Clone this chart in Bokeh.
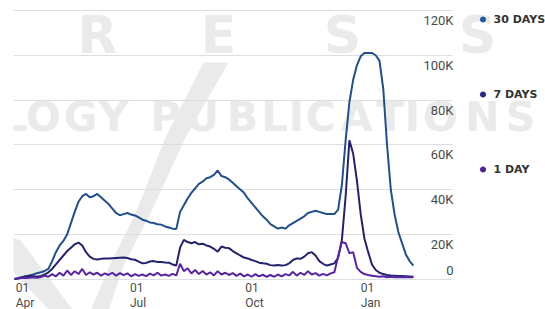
import math
import pandas as pd
from bokeh.plotting import figure
from bokeh.models import (Range1d, FixedTicker, Legend, LegendItem, ColumnDataSource,
                          Grid, Label, PolyAnnotation)
from bokeh.embed import file_html
from bokeh.resources import INLINE
from bokeh.core.properties import value

# ---------------- data (values in thousands, one sample every 3 days) ----------------
start_date = "2020-03-31"
step = "3D"

days_30 = [0, 0.3, 0.8, 1.2, 1.6, 2.0, 2.6, 3.0, 3.6, 4.5,
           8, 12, 15, 17, 20, 25, 30, 34.5, 37, 38,
           36.5, 37, 38, 36.5, 35, 33.5, 31.5, 29.5, 28.5, 29,
           29.5, 28.8, 28.4, 27.5, 26.5, 26, 25.3, 25, 24.5, 24.3,
           23.5, 23, 22.5, 22.4, 30, 33, 36, 38.5, 40.5, 42.5,
           43.5, 45, 45.5, 46.5, 48.5, 46, 45.5, 44.5, 43, 41.5,
           40, 38.5, 36, 34, 32, 30, 28, 26.5, 24.5, 23.5,
           22.5, 23, 22.5, 24, 25, 26, 27, 28, 29.5, 30,
           30.5, 30, 29.5, 29, 29, 29, 31, 42, 62, 79,
           89, 95.5, 99.5, 101, 101, 101, 100, 97.5, 85, 60,
           40, 29, 21, 16, 11, 8, 6]

days_7 = [0, 0.3, 0.8, 1.1, 1.3, 1.2, 1.0, 1.3, 2.0, 3.0,
          4.5, 6.5, 8.5, 10.5, 12.5, 14, 15.5, 16.3, 15, 12,
          10, 9, 8.7, 9, 9.2, 9.2, 9.3, 9.4, 9.5, 9.6,
          9.4, 8.8, 8.6, 7.8, 7, 7.2, 7.8, 8, 7.6, 7.6,
          7.4, 7.3, 6.5, 6, 14, 17.5, 16.5, 16, 16.5, 15.5,
          15.8, 15, 14.5, 13.5, 12.2, 14.5, 14, 13.8, 12.5, 11.5,
          10.5, 9.6, 9.2, 8.5, 8, 7.3, 7, 6.8, 6.2, 6,
          6.3, 6, 6.2, 7, 8.5, 9.2, 9, 10, 11.5, 12,
          10.5, 8, 6.8, 6, 6.5, 7, 9.5, 17.5, 37, 62,
          56, 44, 29, 18, 12, 6.5, 4, 2.8, 2.2, 1.8,
          1.6, 1.5, 1.3, 1.3, 1.2, 1.1, 1.0]

day_1 = [0, 0.2, 0.5, 0.4, 0.6, 0.8, 0.5, 0.9, 1.5, 1.0,
         2.2, 1.2, 2.8, 1.5, 3.8, 1.8, 3.5, 2.2, 4.5, 1.8,
         3.0, 2.0, 2.8, 1.5, 2.5, 1.8, 2.8, 1.5, 2.6, 1.7,
         2.5, 1.2, 2.2, 1.4, 2.0, 1.3, 2.4, 1.6, 2.8, 1.5,
         2.0, 1.4, 2.3, 1.6, 6.8, 3.5, 4.8, 2.5, 4.0, 2.2,
         3.6, 2.0, 3.0, 1.6, 3.5, 2.0, 2.8, 1.8, 2.6, 1.4,
         2.4, 1.2, 2.0, 1.0, 2.2, 1.2, 1.9, 1.0, 1.8, 1.0,
         2.0, 1.2, 2.2, 1.6, 3.2, 1.5, 2.8, 1.8, 3.5, 2.0,
         2.6, 1.5, 2.3, 1.6, 2.5, 3.0, 10, 16.5, 16, 11.5,
         12, 5, 3.2, 2.2, 1.8, 1.5, 1.2, 1.0, 1.2, 0.8,
         1.0, 0.8, 0.9, 0.8, 0.9, 0.8, 0.8]

series_names = ["30 DAYS", "7 DAYS", "1 DAY"]
series_values = [days_30, days_7, day_1]
line_colors = ["#1f4f8c", "#23226f", "#5724a3"]
dot_colors = ["#1d5a9e", "#27278c", "#4d2192"]

y_ticks = [0, 20, 40, 60, 80, 100, 120]
y_tick_labels = ["0", "20K", "40K", "60K", "80K", "100K", "120K"]
x_tick_dates = ["2020-04-01", "2020-07-01", "2020-10-01", "2021-01-01"]
x_tick_days = ["01", "01", "01", "01"]
x_tick_months = ["Apr", "Jul", "Oct", "Jan"]

# faint publisher watermark that sits behind the chart
wm_row1 = "RESS"
wm_row2 = "LOGY PUBLICATIONS"

# ---------------- layout constants ----------------
W, H = 545, 309
LEFT = 13
PX_PER_DAY = 1.2543
PX_PER_K = 2.2375
ZERO_Y = 278.5          # canvas y of the 0 line
FRAME_W = W - LEFT
GRID_W = 439
MS_PER_DAY = 86400000.0


def ms(ts):
    return pd.Timestamp(ts).value / 1e6


dates = pd.date_range(start_date, periods=len(days_30), freq=step)
x0 = ms(x_tick_dates[0]) - 1.8 * MS_PER_DAY
x1 = x0 + FRAME_W / PX_PER_DAY * MS_PER_DAY
grid_end = x0 + GRID_W / PX_PER_DAY * MS_PER_DAY
y1 = ZERO_Y / PX_PER_K
y0 = -(H - ZERO_Y) / PX_PER_K

p = figure(width=W, height=H, x_axis_type="datetime",
           x_range=Range1d(x0, x1), y_range=Range1d(y0, y1),
           x_axis_location=None, y_axis_location=None,
           output_backend="svg", toolbar_location=None,
           min_border_left=LEFT, min_border_right=0, min_border_top=0, min_border_bottom=0)
p.outline_line_color = None
p.center = [r for r in p.center if not isinstance(r, Grid)]

# ---- watermark (canvas units, drawn beneath everything) ----
WM_COLOR = "#eaeaea"
row1_centers = [97, 218, 342, 477]
for ch, cx in zip(wm_row1, row1_centers):
    p.add_layout(Label(x=cx, y=34, x_units="canvas", y_units="canvas", text=ch,
                       text_align="center", text_baseline="middle",
                       text_font="DejaVu Sans", text_font_style="bold",
                       text_font_size="52px", text_color=WM_COLOR, level="image"))
row2_centers = [14, 43, 80, 113, None, 165, 202, 242, 274, 296, 320, 356, 390,
                412, 440, 482, 520]
for ch, cx in zip(wm_row2, row2_centers):
    if cx is None:
        continue
    p.add_layout(Label(x=cx, y=116, x_units="canvas", y_units="canvas", text=ch,
                       text_align="center", text_baseline="middle",
                       text_font="DejaVu Sans", text_font_style="bold",
                       text_font_size="41px", text_color=WM_COLOR, level="image"))
slash = PolyAnnotation(xs=[203, 228, 185, 150, 124, 108, 90, 110, 135, 165],
                       ys=[62, 62, 137, 213, 263, 310, 310, 263, 213, 137],
                       xs_units="canvas", ys_units="canvas",
                       fill_color=WM_COLOR, fill_alpha=1, line_color=None, level="image")
swoosh = PolyAnnotation(xs=[0, 0, 48, 72, 20],
                        ys=[232, 258, 309, 309, 240],
                        xs_units="canvas", ys_units="canvas",
                        fill_color=WM_COLOR, fill_alpha=1, line_color=None, level="image")
p.add_layout(slash)
p.add_layout(swoosh)

grid = Grid(dimension=1, ticker=FixedTicker(ticks=y_ticks),
            grid_line_color="#dedede", grid_line_width=1)
grid.cross_bounds = (x0, grid_end)
p.add_layout(grid, "center")

for name, vals, col in zip(series_names, series_values, line_colors):
    p.line(dates, vals, line_color=col, line_width=2)

# y tick labels (right side, below their grid line, "0" above)
ysrc = ColumnDataSource(dict(
    x=[grid_end] * len(y_ticks), y=y_ticks, text=y_tick_labels,
    dy=[10 if t > 0 else -8.5 for t in y_ticks]))
p.text(x="x", y="y", text="text", y_offset="dy", x_offset=1, source=ysrc,
       text_align="right", text_baseline="middle",
       text_font=value("Roboto"), text_font_size="13px", text_color="#4a4a4a")

# x tick labels (two lines)
xd = [ms(d) for d in x_tick_dates]
p.text(x=xd, y=[0] * len(xd), text=x_tick_days, y_offset=8.5,
       text_align="left", text_baseline="middle",
       text_font=value("Roboto"), text_font_size="12px", text_color="#4a4a4a")
p.text(x=xd, y=[0] * len(xd), text=x_tick_months, y_offset=23.5,
       text_align="left", text_baseline="middle",
       text_font=value("Roboto"), text_font_size="12px", text_color="#4a4a4a")

# legend with dots
items = []
for name, col in zip(series_names, dot_colors):
    r = p.scatter(x=[math.nan], y=[math.nan], fill_color=col, line_color=col, size=5)
    items.append(LegendItem(label=name, renderers=[r]))
legend = Legend(items=items, location=(462.5, 133), orientation="vertical",
                glyph_width=13, glyph_height=14, label_height=14, spacing=61,
                padding=0, margin=0, label_standoff=5,
                label_text_font="DejaVu Sans", label_text_font_style="bold",
                label_text_font_size="11px", label_text_color="#333333",
                border_line_color=None, background_fill_alpha=0)
p.add_layout(legend)

open("out.html", "w").write(file_html(p, INLINE))
